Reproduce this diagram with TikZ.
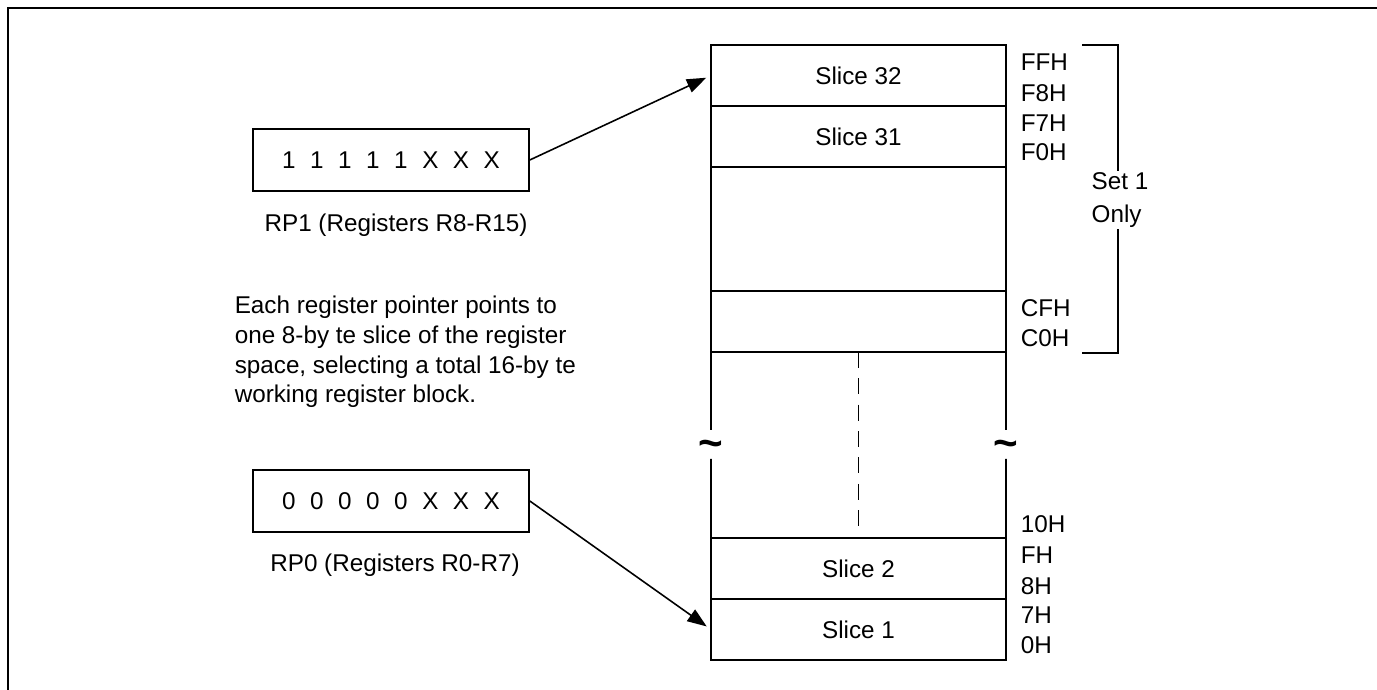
\documentclass[tikz,border=0pt]{standalone}
\usepackage{fontspec}
\setmainfont{Liberation Sans}
\usetikzlibrary{arrows.meta}

\begin{document}
\begin{tikzpicture}[x=0.2mm, y=-0.2mm,
    font=\fontsize{13.8pt}{17pt}\selectfont,
    line width=0.9pt,
    slice/.style={draw, minimum width=59mm, minimum height=12.2mm, inner sep=0pt, outer sep=0pt},
    regbox/.style={draw, minimum width=55.2mm, minimum height=12.4mm, inner sep=0pt},
    addr/.style={anchor=west, inner sep=0pt},
    brk/.style={inner sep=0pt, font=\fontsize{24pt}{24pt}\selectfont\bfseries},
    ptr/.style={-{Triangle[length=11pt,width=8pt]}, shorten >=3pt}]
    \useasboundingbox (0,0) rectangle (1377,690);
    \draw[line width=1.2pt] (8,690) -- (8,8) -- (1377,8);

    \node[slice] (s32) at (858.5,75.5) {Slice 32};
    \node[slice] (s31) at (858.5,136.5) {Slice 31};
    \node[slice, minimum height=24.8mm] (upper) at (858.5,229) {};
    \node[slice] (cf) at (858.5,321.5) {};
    \node[slice] (s2) at (858.5,568.5) {Slice 2};
    \node[slice] (s1) at (858.5,629.5) {Slice 1};

    \node[brk] (tl) at (711,449) {\textasciitilde};
    \node[brk] (tr) at (1006,449) {\textasciitilde};
    \draw (cf.south west) -- (711,430) (711,459) -- (s2.north west);
    \draw (cf.south east) -- (1006,430) (1006,459) -- (s2.north east);
    \draw[dash pattern=on 9pt off 6pt] (cf.south) -- (858.5,532);

    \foreach \y/\t in {62/FFH, 93/F8H, 123/F7H, 152/F0H, 308/CFH, 338/C0H,
                       524/10H, 555/FH, 586/8H, 615/7H, 645/0H}
        \node[addr] (a\t) at (1020,\y) {\t};

    \draw (1082,45) -- (1118,45) -- (1118,353) -- (1082,353);
    \node[fill=white, align=left, inner sep=1pt,
          font=\fontsize{13.8pt}{18.7pt}\selectfont] (set1) at (1120,200) {Set 1\\Only};

    \node[regbox] (rp1) at (391,160) {{\spaceskip=.6em 1 1 1 1 1 X X X}};
    \node[anchor=base] (rp1lbl) at (396,232) {RP1 (Registers R8-R15)};
    \node[regbox] (rp0) at (391,501) {{\spaceskip=.6em 0 0 0 0 0 X X X}};
    \node[anchor=base] (rp0lbl) at (395,572) {RP0 (Registers R0-R7)};

    \node[anchor=base west, align=left, inner sep=0pt] (note) at (234,403)
        {Each register pointer points to\\one 8-by te slice of the register\\space, selecting a total 16-by te\\working register block.};

    \draw[ptr] (rp1.east) -- (s32.west);
    \draw[ptr] (rp0.east) -- (s1.west);
\end{tikzpicture}
\end{document}
